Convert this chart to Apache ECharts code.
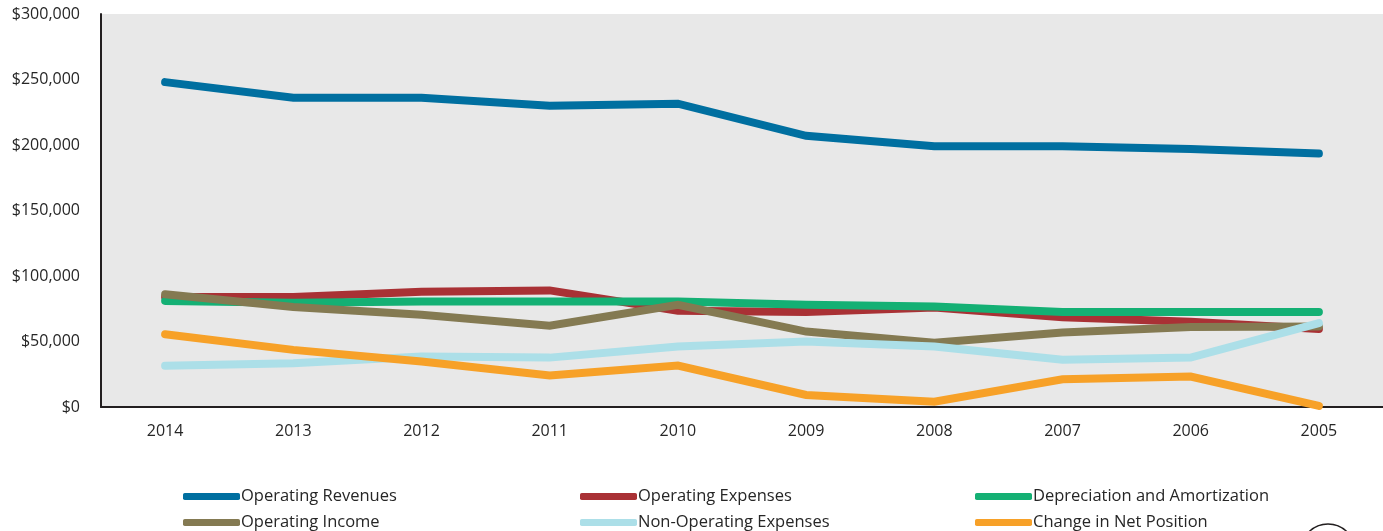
<!DOCTYPE html>
<html>
<head>
<meta charset="utf-8">
<script src="https://cdn.jsdelivr.net/npm/echarts@6/dist/echarts.min.js"></script>
<style>
  html, body { margin: 0; padding: 0; background: #ffffff; }
  #chart { width: 1383px; height: 531px; }
</style>
</head>
<body>
<div id="chart"></div>
<script>
// Fiscal years, most recent first
const years = ['2014', '2013', '2012', '2011', '2010', '2009', '2008', '2007', '2006', '2005'];

// Values in dollars
const operatingRevenues = [248000, 236000, 236000, 230000, 231500, 207000, 199000, 199000, 197000, 193500];
const operatingExpenses = [84000, 84000, 88000, 89000, 73500, 72500, 76000, 68500, 65000, 59500];
const depreciationAmortization = [81000, 79500, 80500, 80500, 80500, 78000, 76800, 72500, 72500, 72500];
const operatingIncome = [86000, 76300, 70400, 62000, 78000, 57600, 49000, 56900, 61000, 61500];
const nonOperatingExpenses = [31500, 33400, 38500, 37700, 46100, 50000, 46100, 36000, 37700, 64000];
const changeInNetPosition = [55600, 43600, 34700, 24000, 31600, 9200, 4000, 21200, 23200, 800];

const seriesNames = [
  'Operating Revenues', 'Operating Expenses', 'Depreciation and Amortization',
  'Operating Income', 'Non-Operating Expenses', 'Change in Net Position'
];
const seriesData = [
  operatingRevenues, operatingExpenses, depreciationAmortization,
  operatingIncome, nonOperatingExpenses, changeInNetPosition
];
const colors = ['#006fa0', '#a93135', '#14b074', '#847a52', '#acdfe8', '#f7a128'];

const font = 'Open Sans';
const textColor = '#262626';

const chart = echarts.init(document.getElementById('chart'), null, { renderer: 'canvas' });

// One legend entry per component so the three columns line up
const legendCols = [183, 580, 975];
const legendRows = [488, 514];
const legends = seriesNames.map((name, i) => ({
  left: legendCols[i % 3],
  top: legendRows[Math.floor(i / 3)],
  orient: 'horizontal',
  itemWidth: 57,
  itemHeight: 7,
  icon: 'roundRect',
  data: [name],
  selectedMode: false,
  padding: 0,
  textStyle: { fontFamily: font, fontSize: 16.5, color: textColor, padding: [0, 0, 0, -4] }
}));

chart.setOption({
  animation: false,
  color: colors,
  grid: {
    left: 101, right: 0, top: 14, bottom: 124,
    show: true, backgroundColor: '#e8e8e8', borderWidth: 0
  },
  legend: legends,
  xAxis: {
    type: 'category',
    data: years,
    boundaryGap: true,
    axisLine: { show: true, lineStyle: { color: '#231f20', width: 2 } },
    axisTick: { show: false },
    axisLabel: { fontFamily: font, fontSize: 16, color: textColor, margin: 16 },
    splitLine: { show: false }
  },
  yAxis: {
    type: 'value',
    min: 0, max: 300000, interval: 50000,
    axisLine: { show: true, lineStyle: { color: '#231f20', width: 2 } },
    axisTick: { show: false },
    splitLine: { show: false },
    axisLabel: {
      fontFamily: font, fontSize: 16, color: textColor, margin: 21,
      padding: [4, 0, 0, 0],
      formatter: v => '$' + v.toLocaleString('en-US')
    }
  },
  series: seriesNames.map((name, i) => ({
    name: name,
    type: 'line',
    data: seriesData[i],
    symbol: 'none',
    z: 2 + i,
    lineStyle: { width: 8, color: colors[i], cap: 'round', join: 'miter' },
    itemStyle: { color: colors[i] }
  })),
  graphic: [{
    type: 'circle',
    shape: { cx: 1328, cy: 551, r: 27 },
    style: { fill: 'none', stroke: '#231f20', lineWidth: 1.5 },
    silent: true
  }]
});
</script>
</body>
</html>
